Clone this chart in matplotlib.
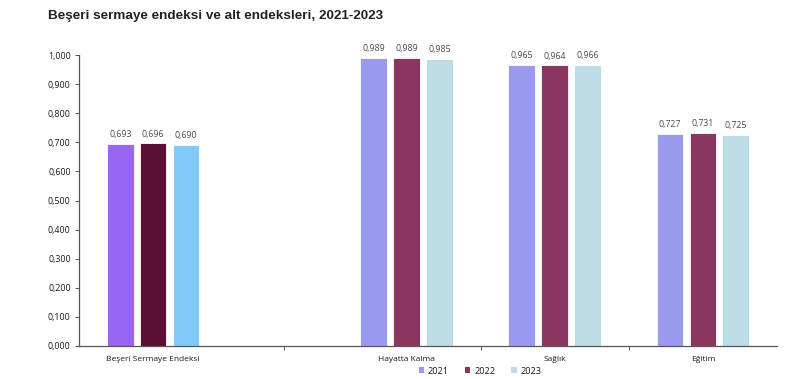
import matplotlib
matplotlib.use("Agg")
import matplotlib.pyplot as plt
from matplotlib.patches import Patch
from matplotlib.ticker import FuncFormatter, FixedLocator

categories = ["Beşeri Sermaye Endeksi", "Hayatta Kalma", "Sağlık", "Eğitim"]
years = ["2021", "2022", "2023"]
v2021 = [0.693, 0.989, 0.965, 0.727]
v2022 = [0.696, 0.989, 0.964, 0.731]
v2023 = [0.690, 0.985, 0.966, 0.725]
series = [v2021, v2022, v2023]

# layout (category slot positions on the axis)
cat_pos = [0.0, 1.71, 2.71, 3.71]
sep_ticks = [0.885, 2.21, 3.21]
first_colors = ["#9966f2", "#5c0f35", "#80c9f8"]
other_colors = ["#9a99f0", "#8b3561", "#bcdce6"]

fig = plt.figure(figsize=(8.0, 3.79), dpi=100)
ax = fig.add_axes([79/800, 33/379, (777-79)/800, (346-55)/379])

bw = 0.18
step = 0.222
lab_font = ["Open Sans", "DejaVu Sans"]
for si, vals in enumerate(series):
    for ci, v in enumerate(vals):
        x = cat_pos[ci] + (si - 1) * step
        col = first_colors[si] if ci == 0 else other_colors[si]
        ax.bar(x, v, width=bw, color=col, edgecolor="white", linewidth=0.6, zorder=2)
        ax.text(x, v + 0.017, f"{v:.3f}".replace(".", ","), ha="center", va="bottom",
                fontsize=6.3, color="#4a4a4a", family=lab_font)

ax.set_xlim(-0.5, 4.21)
ax.set_ylim(0, 1.0)
ax.yaxis.set_major_locator(FixedLocator([i / 10 for i in range(11)]))
ax.yaxis.set_major_formatter(FuncFormatter(lambda v, p: f"{v:.3f}".replace(".", ",")))
ax.set_xticks(cat_pos)
ax.set_xticklabels(categories)
ax.xaxis.set_minor_locator(FixedLocator(sep_ticks))
ax.tick_params(axis="x", which="major", length=0, pad=7, labelsize=6.0, labelcolor="#1a1a1a")
ax.tick_params(axis="x", which="minor", length=3, width=0.7, color="#555555", direction="out")
ax.tick_params(axis="y", length=3, width=0.7, color="#555555", labelsize=6.4, labelcolor="#1a1a1a", pad=3)
for lbl in ax.get_xticklabels() + ax.get_yticklabels():
    lbl.set_family(lab_font)
for s in ["top", "right"]:
    ax.spines[s].set_visible(False)
for s in ["left", "bottom"]:
    ax.spines[s].set_color("#555555")
    ax.spines[s].set_linewidth(0.9)

handles = [Patch(facecolor=c, edgecolor="none") for c in other_colors]
leg = fig.legend(handles, years, loc="center", bbox_to_anchor=(0.6, 8/379), ncol=3, frameon=False,
                 prop={"family": lab_font, "size": 6.6}, handlelength=0.6, handleheight=0.6,
                 handletextpad=0.4, columnspacing=1.75)
for t in leg.get_texts():
    t.set_color("#1a1a1a")

fig.text(48/800, 1 - 16/379, "Beşeri sermaye endeksi ve alt endeksleri, 2021-2023",
         fontsize=9.7, fontweight="bold", family=["Liberation Sans", "DejaVu Sans"],
         ha="left", va="center", color="#222222")

fig.savefig("out.png", dpi=100)
